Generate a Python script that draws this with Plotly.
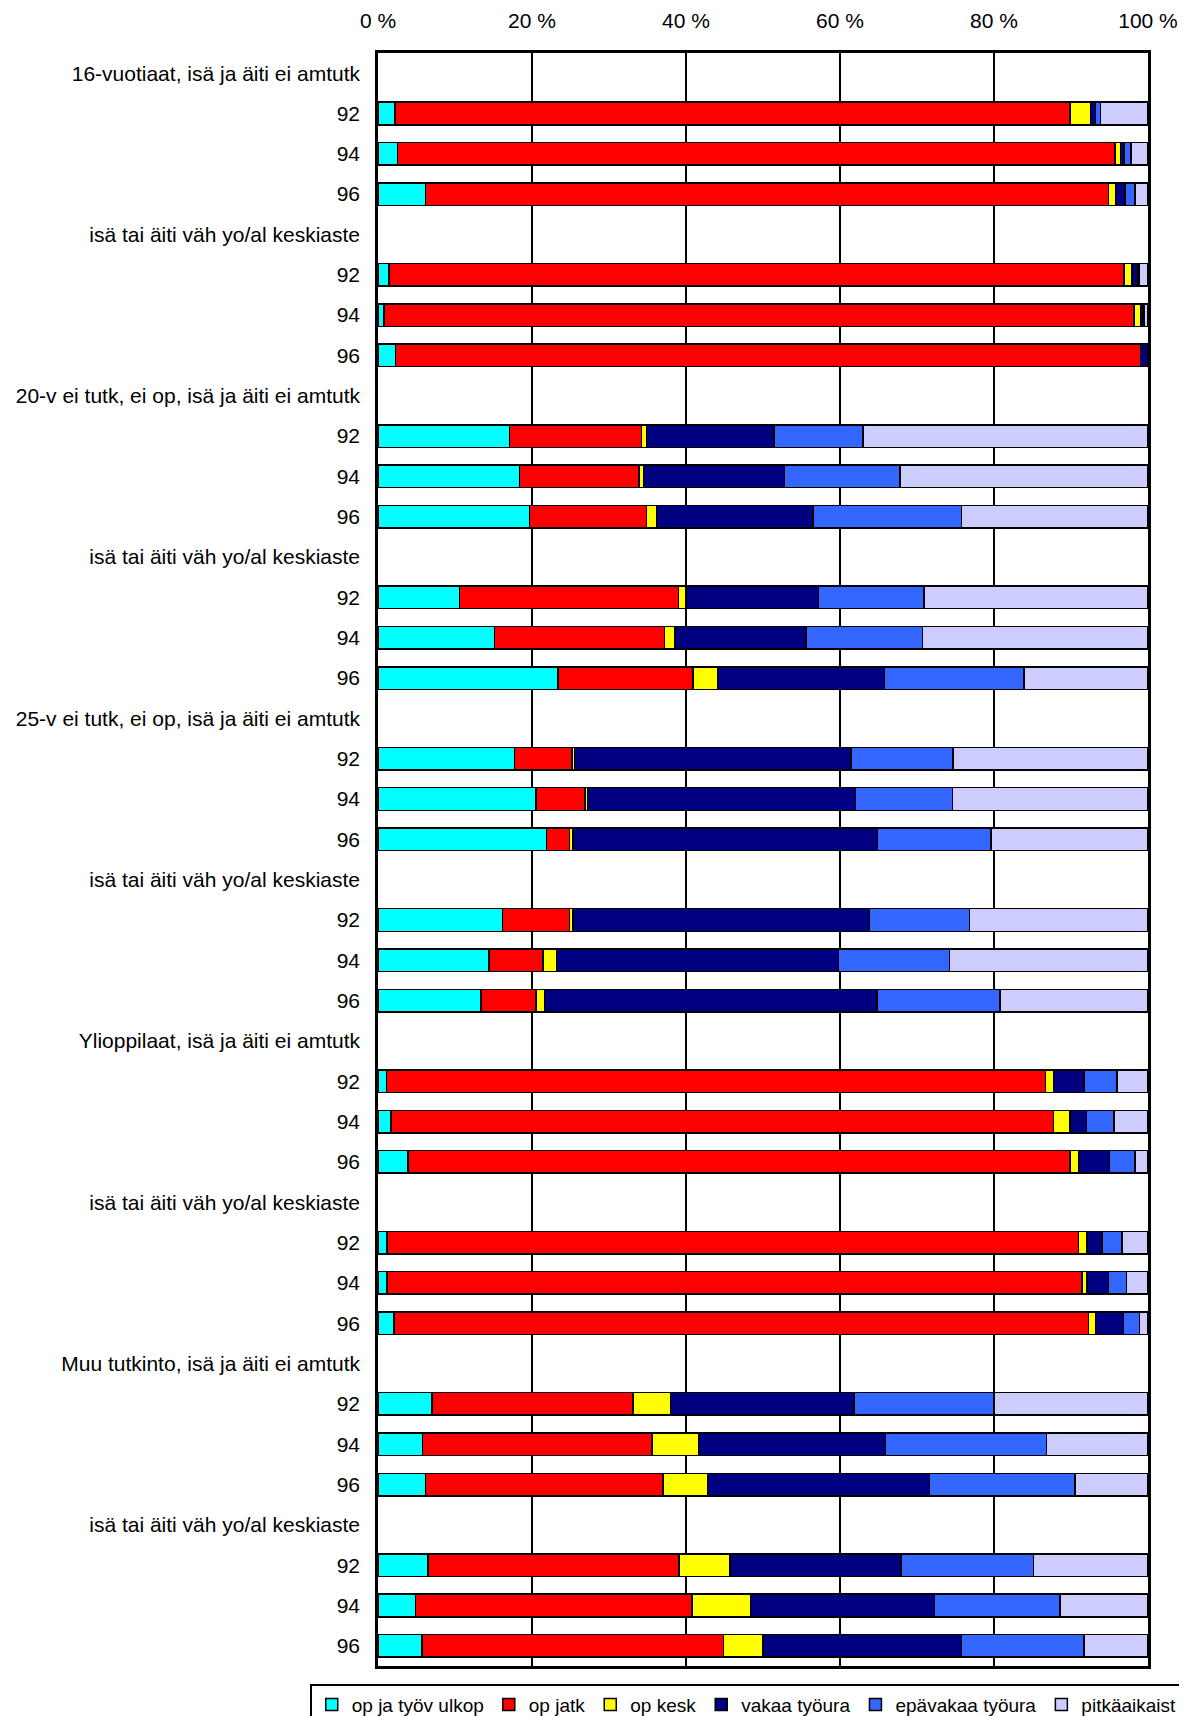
import plotly.graph_objects as go

# Group headers and year labels
group_labels = [
    "16-vuotiaat, isä ja äiti ei amtutk",
    "isä tai äiti väh yo/al keskiaste",
    "20-v ei tutk, ei op, isä ja äiti ei amtutk",
    "isä tai äiti väh yo/al keskiaste",
    "25-v ei tutk, ei op, isä ja äiti ei amtutk",
    "isä tai äiti väh yo/al keskiaste",
    "Ylioppilaat, isä ja äiti ei amtutk",
    "isä tai äiti väh yo/al keskiaste",
    "Muu tutkinto, isä ja äiti ei amtutk",
    "isä tai äiti väh yo/al keskiaste",
]
years = ["92", "94", "96"]

x_tick_values = [0, 20, 40, 60, 80, 100]
x_tick_labels = ["0 %", "20 %", "40 %", "60 %", "80 %", "100 %"]

series_names = ["op ja työv ulkop", "op jatk", "op kesk", "vakaa työura", "epävakaa työura", "pitkäaikaist"]
series_colors = ["#00FFFF", "#FF0000", "#FFFF00", "#000080", "#3366FF", "#CCCCFF"]

# Values (%) per bar, in order group by group, year 92/94/96
op_tyov_ulkop = [2.2, 2.5, 6.2,  1.4, 0.8, 2.3,  17.1, 18.4, 19.7,  10.6, 15.1, 23.4,
                 17.7, 20.5, 21.9,  16.2, 14.4, 13.4,  1.1, 1.7, 3.9,  1.2, 1.2, 2.1,
                 7.0, 5.8, 6.2,  6.5, 4.9, 5.7]
op_jatk = [87.7, 93.2, 88.7,  95.5, 97.4, 96.7,  17.1, 15.5, 15.2,  28.4, 22.1, 17.5,
           7.5, 6.4, 3.0,  8.7, 7.0, 7.1,  85.6, 86.0, 86.0,  89.8, 90.2, 90.2,
           26.1, 29.8, 30.8,  32.6, 35.9, 39.2]
op_kesk = [2.6, 0.7, 0.9,  1.0, 0.8, 0.0,  0.7, 0.6, 1.3,  1.0, 1.4, 3.2,
           0.3, 0.3, 0.4,  0.4, 1.8, 1.1,  1.0, 2.2, 1.1,  1.1, 0.7, 0.9,
           4.9, 6.0, 5.8,  6.6, 7.6, 5.1]
vakaa = [0.7, 0.5, 1.2,  0.8, 0.3, 1.0,  16.5, 18.3, 20.3,  17.2, 17.0, 21.7,
         35.9, 34.8, 39.6,  38.5, 36.6, 43.2,  4.0, 2.1, 4.0,  1.9, 2.8, 3.6,
         23.8, 24.3, 28.8,  22.2, 23.9, 25.8]
epavakaa = [0.6, 0.9, 1.3,  0.1, 0.2, 0.0,  11.6, 15.0, 19.3,  13.7, 15.1, 18.1,
            13.3, 12.6, 14.7,  13.0, 14.4, 16.0,  4.3, 3.6, 3.3,  2.6, 2.3, 2.1,
            18.2, 20.9, 18.9,  17.2, 16.3, 15.9]
pitkaaikaist = [6.2, 2.2, 1.7,  1.2, 0.5, 0.0,  37.0, 32.2, 24.2,  29.1, 29.3, 16.1,
                25.3, 25.4, 20.4,  23.2, 25.8, 19.2,  4.0, 4.4, 1.7,  3.4, 2.8, 1.1,
                20.0, 13.2, 9.5,  14.9, 11.4, 8.3]

series_values = [op_tyov_ulkop, op_jatk, op_kesk, vakaa, epavakaa, pitkaaikaist]

# Build row positions: header row then three year rows per group
tick_pos, tick_text, bar_pos = [], [], []
row = 0
for g in group_labels:
    tick_pos.append(row); tick_text.append(g); row += 1
    for yr in years:
        tick_pos.append(row); tick_text.append(yr); bar_pos.append(row); row += 1

fig = go.Figure()
for name, color, vals in zip(series_names, series_colors, series_values):
    fig.add_trace(go.Bar(
        y=bar_pos, x=[v if v > 0 else None for v in vals], orientation="h", name=name,
        marker=dict(color=color, line=dict(color="black", width=1.5)),
        width=0.56,
    ))

font = dict(family="Liberation Sans, Arial, sans-serif", size=21, color="black")
legend_font = dict(family="Liberation Sans, Arial, sans-serif", size=19, color="black")
fig.update_layout(
    barmode="stack",
    width=1187, height=1716,
    margin=dict(l=370, r=47, t=45, b=58, autoexpand=False),
    paper_bgcolor="white", plot_bgcolor="white",
    font=font,
    showlegend=True,
    legend=dict(orientation="h", x=-0.088, xanchor="left", y=-0.0112, yanchor="top",
                bordercolor="black", borderwidth=1.5, font=legend_font, traceorder="normal",
                itemwidth=30, tracegroupgap=0),
)
fig.update_xaxes(
    range=[0, 100], side="top", tickvals=x_tick_values, ticktext=x_tick_labels,
    showgrid=True, gridcolor="black", gridwidth=2, zeroline=False,
    showline=True, linecolor="black", linewidth=2.5, mirror=True,
    ticks="", ticklabelstandoff=14, tickfont=font, automargin=False,
)
fig.update_yaxes(
    range=[row - 0.5, -0.5], tickvals=tick_pos, ticktext=tick_text,
    showgrid=False, zeroline=False,
    showline=True, linecolor="black", linewidth=2.5, mirror=True,
    ticks="", ticklabelstandoff=11, tickfont=font, automargin=False,
)

fig.write_html("out.html")
